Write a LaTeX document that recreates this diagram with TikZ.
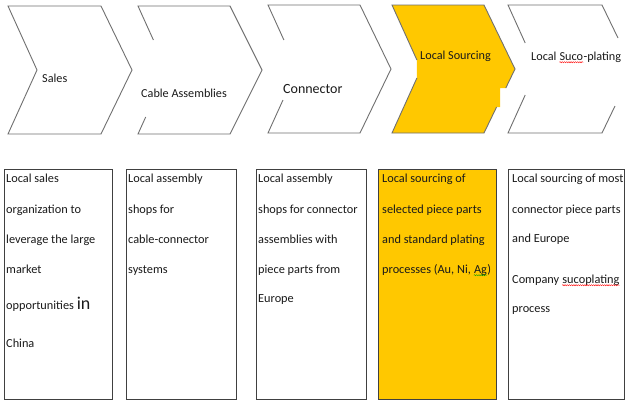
\documentclass[tikz,border=0pt]{standalone}
\usepackage{fontspec}
\setmainfont{Carlito}
\usetikzlibrary{decorations.pathmorphing}
\definecolor{gold}{HTML}{FFC800}
\definecolor{chevline}{HTML}{707070}
\definecolor{boxline}{HTML}{404040}
\definecolor{txt}{HTML}{1A1A1A}
\begin{document}
\begin{tikzpicture}[x=1pt,y=-1pt,
  chev/.style={draw=chevline,line width=0.9pt,line join=miter},
  lbl/.style={anchor=base west,inner sep=0pt,text=txt,font=\fontsize{12.2}{14}\selectfont},
  biglbl/.style={lbl,font=\fontsize{14}{16}\selectfont},
  col/.style={draw=boxline,line width=0.9pt},
  body/.style={anchor=base west,inner sep=0pt,text=txt,font=\fontsize{12.3}{14}\selectfont},
  spellred/.style={draw=red,line width=0.4pt,decorate,decoration={snake,amplitude=0.6pt,segment length=2.2pt}},
  spellgreen/.style={draw=green!60!black,line width=0.4pt,decorate,decoration={snake,amplitude=0.6pt,segment length=2.2pt}},
]
\useasboundingbox (0,0) rectangle (625,400);
\fill[white] (0,0) rectangle (625,400);

% chevrons
\draw[chev] (8,6) -- (101,6) -- (132,70) -- (101,134) -- (8,134) -- (37,70) -- cycle;
\draw[chev] (153.4,40) -- (138,6) -- (230,6) -- (262,70) -- (230,134) -- (138,134) -- (145.7,117);
\draw[chev] (283.9,40) -- (268,5) -- (360,5) -- (391,69) -- (360,133) -- (268,133) -- (283,100);
\fill[gold] (392,5) -- (484,5) -- (515,69) -- (505.8,88) -- (500,88) -- (500,107) -- (496.6,107)
  -- (484,133) -- (392,133) -- (416.9,78) -- (416.9,60) -- cycle;
\draw[chev] (416.9,60) -- (392,5) -- (484,5) -- (515,69) -- (505.8,88);
\draw[chev] (496.6,107) -- (484,133) -- (392,133) -- (416.9,78);
\draw[chev] (525.2,43) -- (508,5) -- (602,5) -- (618,38);
\draw[chev] (615,106) -- (602,133) -- (508,133) -- (525.2,95);

% chevron labels
\node[lbl] (sales) at (42,82) {Sales};
\node[lbl] (cable) at (141,97) {Cable Assemblies};
\node[biglbl] (conn) at (283,93) {Connector};
\node[lbl] (lsrc) at (420,59) {Local Sourcing};
\node[lbl] (lsa) at (531,60) {Local\mbox{\ }};
\node[lbl] (lsb) at (lsa.base east) {Suco};
\node[lbl] (lsc) at (lsb.base east) {-plating};
\draw[spellred] ([yshift=-2.2pt]lsb.base west) -- ([yshift=-2.2pt]lsb.base east);

% columns
\draw[col] (4,169) rectangle (112,399);
\draw[col] (126,169) rectangle (236,399);
\draw[col] (256,169) rectangle (366,399);
\draw[col,fill=gold] (378,169) rectangle (496,399);
\draw[col] (508,169) rectangle (624,399);

% column 1
\node[body] (a1) at (6,182) {Local sales};
\node[body] (a2) at (6,213) {organization to};
\node[body] (a3) at (6,243) {leverage the large};
\node[body] (a4) at (6,273) {market};
\node[body] (a5) at (6,309) {opportunities {\fontsize{18}{20}\selectfont in}};
\node[body] (a6) at (6,347) {China};

% column 2
\node[body] (b1) at (128,182) {Local assembly};
\node[body] (b2) at (128,213) {shops for};
\node[body] (b3) at (128,243) {cable-connector};
\node[body] (b4) at (128,273) {systems};

% column 3
\node[body] (c1) at (258,182) {Local assembly};
\node[body] (c2) at (258,213) {shops for connector};
\node[body] (c3) at (258,243) {assemblies with};
\node[body] (c4) at (258,273) {piece parts from};
\node[body] (c5) at (258,302) {Europe};

% column 4
\node[body] (d1) at (382,182) {Local sourcing of};
\node[body] (d2) at (382,213) {selected piece parts};
\node[body] (d3) at (382,243) {and standard plating};
\node[body] (d4a) at (382,273) {processes (Au, Ni,\mbox{\ }};
\node[body] (d4b) at (d4a.base east) {Ag};
\node[body] (d4c) at (d4b.base east) {)};
\draw[spellgreen] ([yshift=-2.2pt]d4b.base west) -- ([yshift=-2.2pt]d4b.base east);

% column 5
\node[body] (e1) at (512,182) {Local sourcing of most};
\node[body] (e2) at (512,213) {connector piece parts};
\node[body] (e3) at (512,242) {and Europe};
\node[body] (e4a) at (512,283) {Company\mbox{\ }};
\node[body] (e4b) at (e4a.base east) {sucoplating};
\draw[spellred] ([yshift=-2.2pt]e4b.base west) -- ([yshift=-2.2pt]e4b.base east);
\node[body] (e5) at (512,312) {process};
\end{tikzpicture}
\end{document}
